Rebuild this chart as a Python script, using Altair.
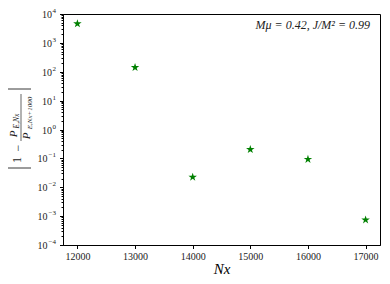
import altair as alt
import pandas as pd

nx = [12000, 13000, 14000, 15000, 16000, 17000]
err = [4600, 141, 0.0224, 0.204, 0.093, 0.00074]
x_ticks = [12000, 13000, 14000, 15000, 16000, 17000]
y_major = [1e-4, 1e-3, 1e-2, 1e-1, 1, 10, 100, 1000, 1e4]
y_exponents = ["−4", "−3", "−2", "−1", "0", "1", "2", "3", "4"]
y_minor = [k * 10.0 ** d for d in range(-4, 4) for k in range(2, 10)]
annotation = "Mμ = 0.42, J/M² = 0.99"

df = pd.DataFrame({"nx": nx, "err": err})
ticks_df = pd.DataFrame({"v": y_major, "e": y_exponents})
ticks_df["neg"] = ticks_df["e"].str.startswith("−")

FONT = "Liberation Serif"
STAR = "M0,-1 L0.2245,-0.309 L0.951,-0.309 L0.3633,0.118 L0.5878,0.809 L0,0.382 L-0.5878,0.809 L-0.3633,0.118 L-0.951,-0.309 L-0.2245,-0.309 Z"

OX, OY = 63, 14  # screen position of plot-area origin

xscale = alt.Scale(domain=[11750, 17250], nice=False, zero=False)
yscale = alt.Scale(type="log", domain=[1e-4, 1e4], nice=False)

points = alt.Chart(df).mark_point(
    shape=STAR, filled=True, color="#008000", size=80, opacity=1
).encode(
    x=alt.X("nx:Q", scale=xscale,
            axis=alt.Axis(values=x_ticks, format="d", title="Nx", titleFontStyle="italic",
                          titleFontSize=15, titleFontWeight="normal", titleFont=FONT,
                          labelFont=FONT, labelFontSize=10, labelColor="#222",
                          grid=False, tickSize=3.5, tickColor="black", domainColor="black",
                          labelPadding=3, titlePadding=0)),
    y=alt.Y("err:Q", scale=yscale,
            axis=alt.Axis(values=y_major, labels=False, title=None,
                          grid=False, tickSize=3.5, tickColor="black", domainColor="black")),
)

minor = alt.Chart(pd.DataFrame({"v": y_minor})).mark_point(opacity=0).encode(
    y=alt.Y("v:Q", scale=yscale,
            axis=alt.Axis(orient="left", values=y_minor, labels=False, title=None,
                          grid=False, tickSize=2, tickColor="black", domain=False)),
)

# tick labels 10^n: exponent right-aligned near the axis, base "10" before it
exp_lbl = alt.Chart(ticks_df).mark_text(
    align="right", baseline="middle", font=FONT, fontSize=7, color="#222", dy=-3
).encode(y=alt.Y("v:Q", scale=yscale, axis=None), text="e:N", x=alt.value(-7))

base_pos = alt.Chart(ticks_df).transform_filter("!datum.neg").mark_text(
    align="right", baseline="middle", font=FONT, fontSize=10, color="#222", dy=1
).encode(y=alt.Y("v:Q", scale=yscale, axis=None), text=alt.value("10"), x=alt.value(-11))

base_neg = alt.Chart(ticks_df).transform_filter("datum.neg").mark_text(
    align="right", baseline="middle", font=FONT, fontSize=10, color="#222", dy=1
).encode(y=alt.Y("v:Q", scale=yscale, axis=None), text=alt.value("10"), x=alt.value(-15.5))

text = alt.Chart(pd.DataFrame({"t": [annotation]})).mark_text(
    align="right", baseline="middle", font=FONT, fontSize=12, fontStyle="italic", color="#222"
).encode(text="t:N", x=alt.value(307), y=alt.value(11))


# y-axis title drawn as a rotated fraction: |1 - P_{E,Nx} / P_{E,Nx+1000}|
def ttext(s, sx, sy, size, italic=True):
    return alt.Chart(pd.DataFrame({"t": [s]})).mark_text(
        angle=270, align="center", baseline="middle", font=FONT, fontSize=size,
        fontStyle="italic" if italic else "normal", color="#222"
    ).encode(text="t:N", x=alt.value(sx - OX), y=alt.value(sy - OY))


def hline(sx1, sx2, sy):
    return alt.Chart(pd.DataFrame({"a": [0]})).mark_rule(color="#222", strokeWidth=0.9).encode(
        x=alt.value(sx1 - OX), x2=alt.value(sx2 - OX), y=alt.value(sy - OY))


def vline(sx, sy1, sy2):
    return alt.Chart(pd.DataFrame({"a": [0]})).mark_rule(color="#222", strokeWidth=0.7).encode(
        x=alt.value(sx - OX), y=alt.value(sy1 - OY), y2=alt.value(sy2 - OY))


ytitle = [
    hline(7, 31, 89),
    hline(7, 31, 168),
    ttext("1", 17, 160, 12, italic=False),
    ttext("−", 18, 148, 12, italic=False),
    vline(21, 94, 141),
    ttext("P", 14, 134, 11),
    ttext("E,Nx", 17, 121, 7.5),
    ttext("P", 27, 136, 11),
    ttext("E,Nx+1000", 30, 113, 7),
]

chart = alt.layer(points, minor, exp_lbl, base_pos, base_neg, text, *ytitle).resolve_axis(
    y="independent"
).properties(
    width=317, height=231,
    padding={"left": 55, "top": 6, "right": 2, "bottom": 31},
    autosize=alt.AutoSizeParams(type="none"),
).configure_view(stroke="black", strokeWidth=1)

chart.save("out.html", embed_options={"renderer": "svg", "actions": False})
